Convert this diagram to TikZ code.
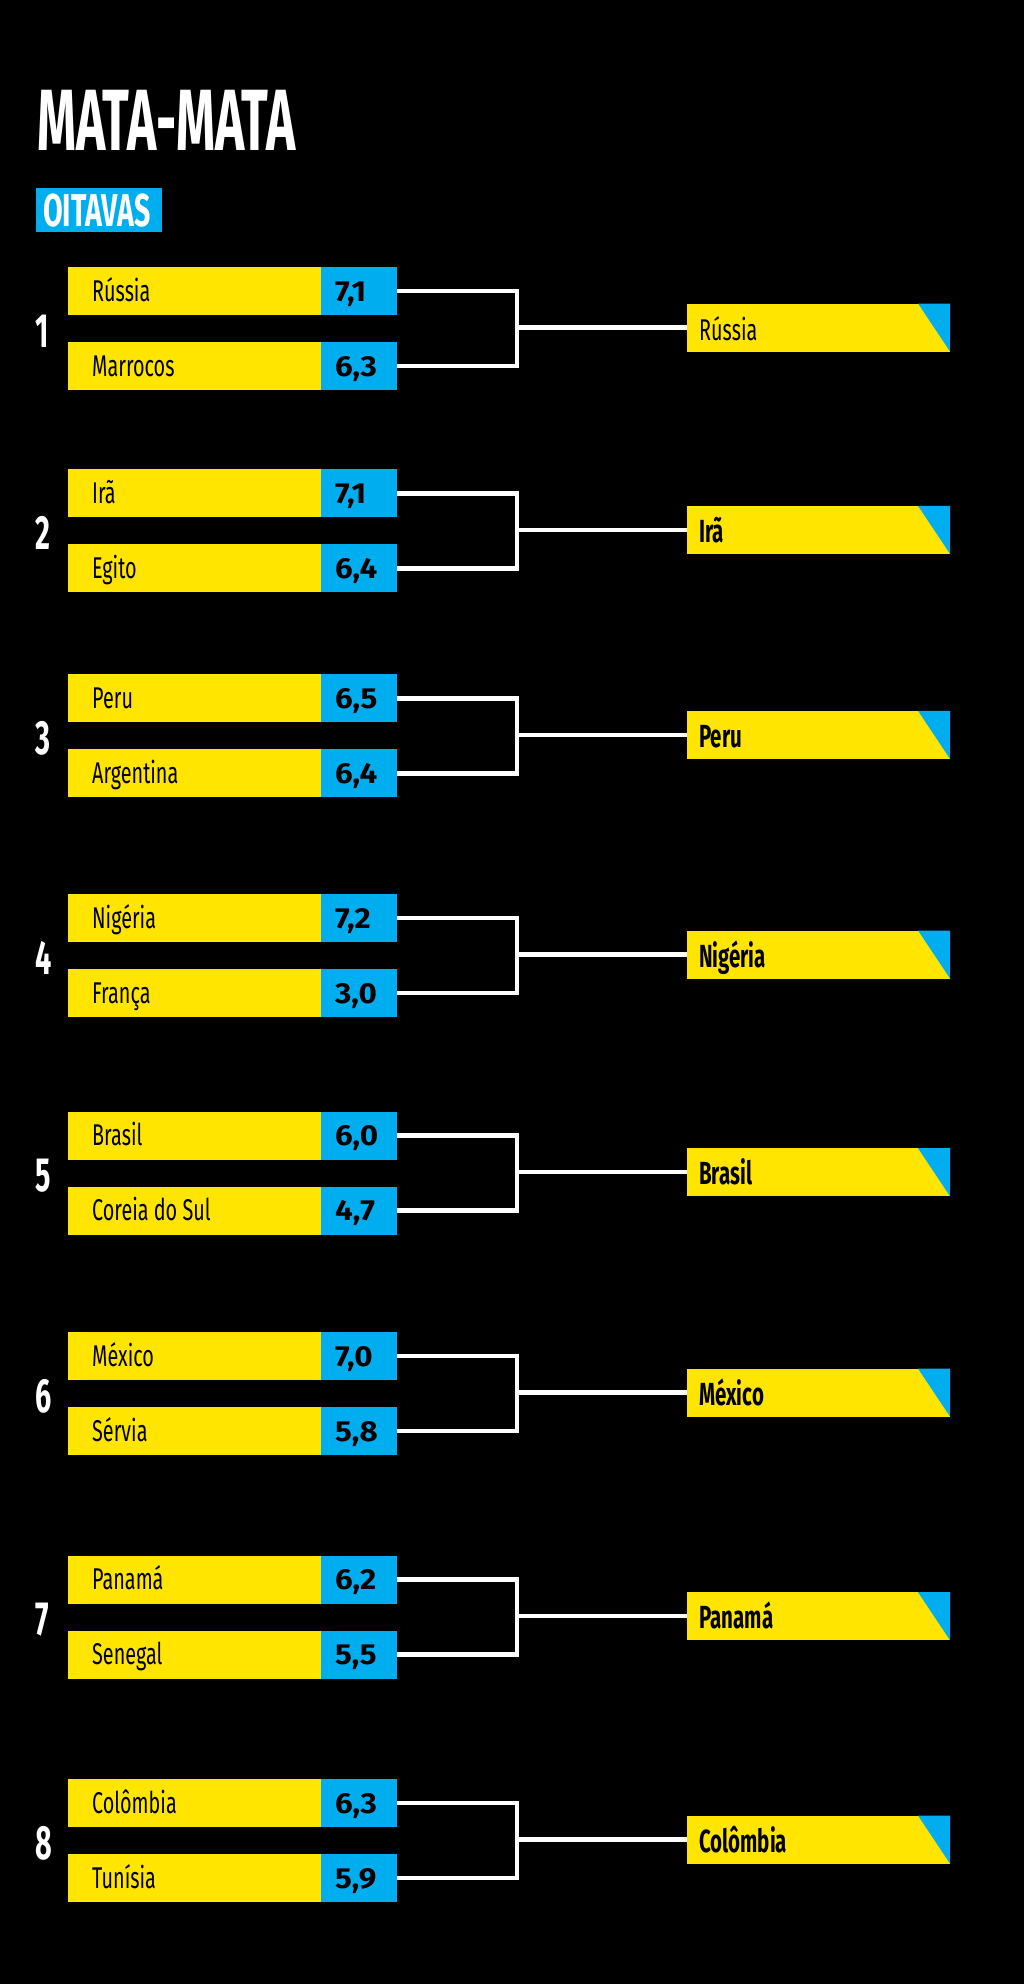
\documentclass[tikz,border=0pt]{standalone}
\usepackage{fontspec}
\setmainfont{Fira Sans}
\newfontfamily\fteam[FakeStretch=0.66]{Fira Sans}
\newfontfamily\fwin[FakeStretch=0.64]{Fira Sans}
\newfontfamily\ftitle[FakeStretch=0.57]{Fira Sans}
\newfontfamily\fsub[FakeStretch=0.62]{Fira Sans}
\newfontfamily\fnum[FakeStretch=0.6]{Fira Sans}
\newfontfamily\fscore[FakeStretch=1.08]{Fira Sans}
\definecolor{ouro}{HTML}{FFE500}
\definecolor{ciano}{HTML}{00AEEF}
\tikzset{
  teambox/.style={fill=ouro, minimum width=253pt, minimum height=48pt, inner sep=0pt, outer sep=0pt, anchor=north west},
  scorebox/.style={fill=ciano, minimum width=76pt, minimum height=48pt, inner sep=0pt, outer sep=0pt, anchor=north west},
  winbox/.style={fill=ouro, minimum width=263pt, minimum height=48pt, inner sep=0pt, outer sep=0pt, anchor=north west},
  teamtxt/.style={anchor=base west, inner sep=0pt, text=black, font=\fteam\fontsize{30}{30}\selectfont},
  wintxt/.style={anchor=base west, inner sep=0pt, text=black, font=\fwin\bfseries\fontsize{32}{32}\selectfont},
  scoretxt/.style={anchor=base west, inner sep=0pt, text=black, font=\fscore\bfseries\fontsize{29}{29}\selectfont},
  numtxt/.style={anchor=base west, inner sep=0pt, text=white, font=\fnum\bfseries\fontsize{48}{48}\selectfont},
  bracket/.style={draw=white, line width=4.5pt, line join=miter},
}
\newcommand\grupo[8]{%
  \node[teambox] (ya#1) at (68,#2) {};
  \node[scorebox] (sa#1) at (321,#2) {};
  \node[teambox] (yb#1) at (68,#2+75) {};
  \node[scorebox] (sb#1) at (321,#2+75) {};
  \node[teamtxt] (na#1) at (92,#2+34) {#3};
  \node[scoretxt] (pa#1) at (335,#2+34) {#4};
  \node[teamtxt] (nb#1) at (92,#2+109) {#5};
  \node[scoretxt] (pb#1) at (335,#2+109) {#6};
  \node[numtxt] (g#1) at (35,#2+80) {#1};
  \node[winbox] (w#1) at (687,#2+36.5) {};
  \fill[ciano] ([xshift=-32pt]w#1.north east) -- (w#1.north east) -- (w#1.south east) -- cycle;
  \node[#8] (wt#1) at (699,#2+73) {#7};
  \coordinate (j#1) at (517,#2+60.5);
  \draw[bracket] (sa#1.east) -| (j#1) |- (sb#1.east);
  \draw[bracket] (j#1) -- (w#1.west);
}
\begin{document}
\begin{tikzpicture}[x=1pt,y=-1pt]
\fill[black] (0,0) rectangle (1024,1984);
\useasboundingbox (0,0) rectangle (1024,1984);
\node[anchor=base west, inner sep=0pt, text=white, font=\ftitle\bfseries\fontsize{87}{87}\selectfont] (title) at (37,150) {MATA-MATA};
\node[fill=ciano, minimum width=126pt, minimum height=44pt, inner sep=0pt, anchor=north west] (oit) at (36,188) {};
\node[anchor=base west, inner sep=0pt, text=white, font=\fsub\bfseries\fontsize{46}{46}\selectfont] (oittxt) at (43,226.7) {OITAVAS};
\grupo{1}{267}{Rússia}{7,1}{Marrocos}{6,3}{Rússia}{teamtxt}
\grupo{2}{469.3}{Irã}{7,1}{Egito}{6,4}{Irã}{wintxt}
\grupo{3}{674.3}{Peru}{6,5}{Argentina}{6,4}{Peru}{wintxt}
\grupo{4}{894}{Nigéria}{7,2}{França}{3,0}{Nigéria}{wintxt}
\grupo{5}{1111.7}{Brasil}{6,0}{Coreia do Sul}{4,7}{Brasil}{wintxt}
\grupo{6}{1332}{México}{7,0}{Sérvia}{5,8}{México}{wintxt}
\grupo{7}{1555.7}{Panamá}{6,2}{Senegal}{5,5}{Panamá}{wintxt}
\grupo{8}{1779}{Colômbia}{6,3}{Tunísia}{5,9}{Colômbia}{wintxt}
\end{tikzpicture}
\end{document}
